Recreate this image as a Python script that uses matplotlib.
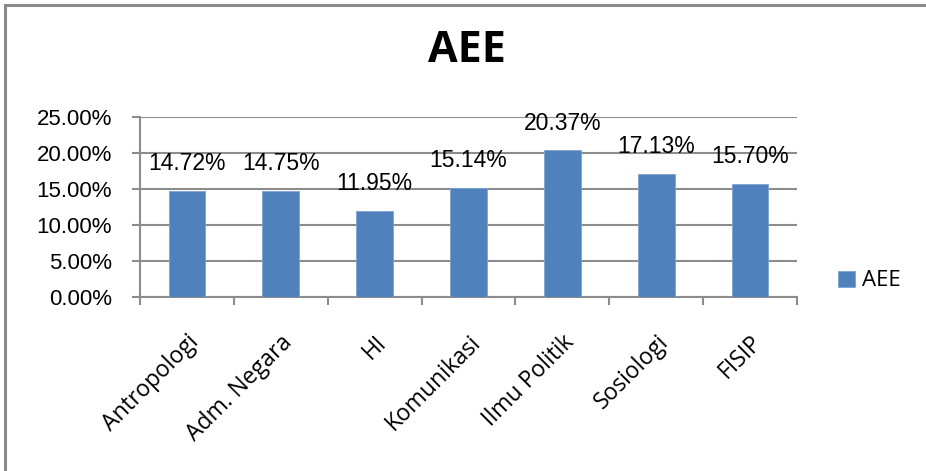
import matplotlib
matplotlib.use("Agg")
import matplotlib.pyplot as plt
from matplotlib.lines import Line2D
from matplotlib.ticker import FixedLocator, FuncFormatter
from matplotlib.transforms import ScaledTranslation
import numpy as np

categories = ["Antropologi", "Adm. Negara", "HI", "Komunikasi", "Ilmu Politik", "Sosiologi", "FISIP"]
values = [14.72, 14.75, 11.95, 15.14, 20.37, 17.13, 15.70]
series_name = "AEE"
title = "AEE"
y_ticks = [0, 5, 10, 15, 20, 25]

plt.rcParams['font.family'] = ['Liberation Sans', 'DejaVu Sans']

BAR = "#4F81BD"
GRID = "#8C8C8C"

fig = plt.figure(figsize=(9.26, 4.71), dpi=100)
ax = fig.add_axes([140/926, 1-297/471, (797-140)/926, (297-117)/471])

x = np.arange(len(categories))
bars = ax.bar(x, values, width=0.39, color=BAR, edgecolor="#7FA3D3", linewidth=0.6,
              label=series_name, zorder=3)

for xi, v in zip(x, values):
    ax.annotate(f"{v:.2f}%", (xi, v), xytext=(0, 19.5), textcoords="offset points",
                ha="center", va="center", fontsize=16.5, color="#000000", zorder=4)

ax.set_xlim(-0.5, len(categories) - 0.5)
ax.set_ylim(0, 25)
ax.yaxis.set_major_locator(FixedLocator(y_ticks))
ax.yaxis.set_major_formatter(FuncFormatter(lambda v, p: f"{v:.2f}%"))
ax.grid(axis="y", color=GRID, linewidth=1.5, zorder=0)
ax.set_axisbelow(True)

# category boundaries as major ticks (no labels), centers as minor ticks with labels
ax.xaxis.set_major_locator(FixedLocator(np.arange(len(categories) + 1) - 0.5))
ax.xaxis.set_major_formatter(FuncFormatter(lambda v, p: ""))
ax.xaxis.set_minor_locator(FixedLocator(x))
ax.set_xticklabels(categories, minor=True, rotation=45, ha="right",
                   rotation_mode="anchor", fontsize=16.5,
                   family=["Open Sans", "DejaVu Sans"])
shift = ScaledTranslation(4/100, 0, fig.dpi_scale_trans)
for lab in ax.get_xticklabels(minor=True):
    lab.set_transform(lab.get_transform() + shift)
ax.tick_params(axis="x", which="major", length=6, width=1.5, color=GRID, direction="out")
ax.tick_params(axis="x", which="minor", length=0, pad=24)
ax.tick_params(axis="y", length=6, width=1.5, color=GRID, pad=14, labelsize=16)

for s in ["top", "right"]:
    ax.spines[s].set_visible(False)
for s in ["left", "bottom"]:
    ax.spines[s].set_color(GRID)
    ax.spines[s].set_linewidth(1.5)

fig.text(467/926, 1-51/471, title, ha="center", va="center", fontsize=31,
         fontweight="bold", family=["Open Sans", "DejaVu Sans"])

fig.legend(handles=[bars], labels=[series_name], loc="center left",
           bbox_to_anchor=(838/926, 1-281/471), frameon=False,
           borderpad=0, borderaxespad=0, handlelength=0.75, handleheight=0.75,
           handletextpad=0.35, prop={"family": ["Open Sans", "DejaVu Sans"], "size": 16})

# chart-area border (top and left edges visible)
fig.add_artist(Line2D([5/926, 1], [1-5/471, 1-5/471], transform=fig.transFigure,
                      color="#8A8A8A", linewidth=2.2))
fig.add_artist(Line2D([5/926, 5/926], [0, 1-5/471], transform=fig.transFigure,
                      color="#8A8A8A", linewidth=2.2))

fig.savefig("out.png", dpi=100)
